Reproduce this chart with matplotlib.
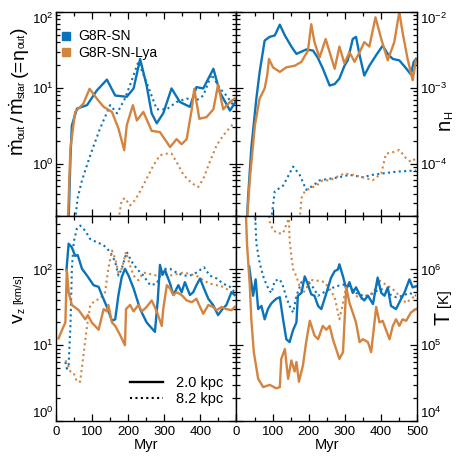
import matplotlib
matplotlib.use("Agg")
import matplotlib.pyplot as plt
from matplotlib.lines import Line2D
from matplotlib.transforms import IdentityTransform
from matplotlib.ticker import LogLocator, MultipleLocator, NullFormatter, FixedFormatter

matplotlib.rcParams['font.family'] = ['Liberation Sans', 'DejaVu Sans']
matplotlib.rcParams['mathtext.fontset'] = 'custom'
matplotlib.rcParams['mathtext.rm'] = 'Liberation Sans'
matplotlib.rcParams['mathtext.it'] = 'Liberation Sans:italic'
matplotlib.rcParams['mathtext.bf'] = 'Liberation Sans:bold'
matplotlib.rcParams['xtick.labelsize'] = 9.5
matplotlib.rcParams['ytick.labelsize'] = 9.5

BLUE = '#0b73b9'
ORANGE = '#d3843f'

# ---- mass loading eta (top left) ----
t_eta_sn = [35, 40, 44, 58, 86, 113, 141, 164, 196, 215, 233, 251, 265, 279, 297, 320,
            343, 371, 389, 408, 436, 454, 482, 497]
eta_sn_2 = [0.18, 1.2, 3.2, 5.3, 5.9, 9.2, 12.8, 7.9, 7.6, 9.8, 24, 10.7, 4.6, 3.4, 4.6, 9.8,
            6.5, 5.6, 10.2, 9.8, 17.8, 8.7, 5.0, 6.5]
t_eta_lya = [33, 40, 53, 76, 93, 113, 132, 155, 173, 189, 196, 213, 224, 242, 265, 288, 316,
             334, 348, 362, 376, 383, 397, 417, 436, 449, 463, 482, 495]
eta_lya_2 = [0.18, 1.6, 4.8, 6.2, 9.7, 7.2, 5.6, 4.8, 2.9, 1.5, 3.2, 5.9, 3.7, 4.8, 2.7, 2.6, 1.65,
             2.1, 1.8, 2.1, 5.2, 9.7, 3.9, 4.1, 5.2, 11, 5.2, 6.5, 7.2]
t_eta_sn_8 = [53, 60, 72, 95, 122, 150, 169, 191, 210, 228, 251, 279, 307, 334, 362, 389, 408,
              431, 454, 472, 491]
eta_sn_8 = [0.18, 0.35, 0.6, 1.29, 2.9, 5.9, 4.6, 7.2, 12.6, 22, 11.7, 5.2, 5.2, 6.5, 7.2, 6.8, 7.9,
            15, 9.8, 7.9, 5.9]
t_eta_lya_8 = [173, 182, 191, 205, 219, 233, 251, 270, 288, 307, 320, 334, 353, 376, 394, 408,
               426, 445, 463, 482, 495]
eta_lya_8 = [0.18, 0.33, 0.35, 0.28, 0.33, 0.43, 0.63, 0.95, 1.29, 1.35, 1.35, 1.05, 0.71, 0.55,
             0.49, 0.63, 1.05, 1.74, 2.34, 3.0, 3.5]

# ---- density nH (top right) ----
t_nh_sn = [28, 32, 41, 55, 64, 78, 92, 106, 120, 134, 152, 166, 180, 193, 212, 225, 239, 258,
           272, 285, 299, 308, 322, 331, 341, 354, 368, 387, 405, 419, 433, 451, 470, 483, 491, 497]
nh_sn_2 = [1.5e-5, 3.5e-5, 1.6e-4, 7.2e-4, 1.6e-3, 4.2e-3, 4.7e-3, 4.9e-3, 6.8e-3, 4.9e-3, 3.5e-3,
           2.8e-3, 3.0e-3, 3.2e-3, 3.1e-3, 2.5e-3, 1.8e-3, 1.07e-3, 1.12e-3, 1.32e-3, 1.95e-3,
           2.3e-3, 4.4e-3, 4.7e-3, 2.7e-3, 1.45e-3, 1.95e-3, 2.7e-3, 3.6e-3, 2.8e-3, 2.4e-3,
           2.3e-3, 1.8e-3, 1.5e-3, 2.2e-3, 2.4e-3]
t_nh_lya = [28, 37, 51, 64, 78, 85, 90, 101, 120, 138, 161, 180, 198, 207, 216, 230, 247, 258,
            272, 285, 299, 313, 327, 341, 354, 368, 385, 401, 419, 437, 451, 460, 474, 488, 497]
nh_lya_2 = [1.5e-5, 6.3e-5, 3.2e-4, 7.2e-4, 9.8e-4, 1.45e-3, 2.4e-3, 1.86e-3, 1.62e-3, 1.86e-3,
            1.95e-3, 2.2e-3, 3.1e-3, 6.9e-3, 4.0e-3, 2.5e-3, 4.4e-3, 2.95e-3, 1.78e-3, 3.5e-3,
            2.1e-3, 2.95e-3, 2.2e-3, 2.95e-3, 4.0e-3, 3.5e-3, 8.5e-3, 4.4e-3, 2.3e-3, 4.0e-3,
            1.0e-2, 5.4e-3, 2.4e-3, 1.26e-3, 2.3e-3]
t_nh_sn_8 = [95, 99, 106, 129, 157, 175, 193, 212, 230, 258, 285, 313, 350, 377, 405, 442, 497]
nh_sn_8 = [1.8e-5, 2.3e-5, 4.3e-5, 5.1e-5, 9.1e-5, 7.1e-5, 4.5e-5, 5.1e-5, 6.0e-5, 6.3e-5, 6.6e-5,
           7.1e-5, 6.6e-5, 7.1e-5, 7.4e-5, 7.8e-5, 8.1e-5]
t_nh_lya_8 = [175, 180, 189, 203, 221, 239, 258, 276, 299, 322, 350, 377, 401, 414, 433, 451,
              470, 483, 497]
nh_lya_8 = [1.8e-5, 3.5e-5, 4.3e-5, 4.7e-5, 5.1e-5, 6.0e-5, 6.0e-5, 6.6e-5, 7.4e-5, 7.1e-5, 6.6e-5,
            6.0e-5, 7.4e-5, 1.35e-4, 1.41e-4, 1.51e-4, 1.17e-4, 1.05e-4, 1.17e-4]

# ---- outflow velocity vz (bottom left) ----
t_vz_sn = [29, 35, 44, 53, 60, 72, 86, 104, 118, 127, 141, 155, 164, 173, 182, 191, 201, 215,
           233, 251, 274, 282, 288, 295, 302, 316, 325, 339, 348, 357, 371, 380, 389, 399, 410,
           422, 435, 449, 461, 472, 486, 495]
vz_sn_2 = [98, 219, 195, 151, 155, 102, 83, 62, 59, 46, 32, 21, 22, 46, 79, 102, 83, 56,
           30, 20, 15, 40, 115, 85, 98, 65, 46, 62, 50, 68, 46, 50, 62, 76, 56,
           41, 34, 25, 30, 34, 50, 46]
t_vz_lya = [7, 17, 26, 30, 35, 44, 63, 81, 88, 99, 118, 132, 141, 145, 155, 164, 178, 191, 194,
            205, 215, 228, 238, 251, 265, 279, 293, 297, 307, 316, 325, 334, 348, 362, 376, 389,
            399, 408, 422, 435, 445, 459, 472, 486, 495]
vz_lya_2 = [12.3, 16, 20, 98, 50, 34, 29, 22, 25, 20, 16, 30, 28, 34, 20, 18, 13.5, 10, 30,
            34, 28, 34, 28, 32, 39, 28, 18, 30, 62, 56, 46, 50, 46, 39, 37, 41,
            32, 26, 34, 32, 29, 32, 30, 29, 32]
t_vz_sn_8 = [26, 30, 35, 40, 44, 49, 58, 67, 81, 95, 113, 132, 150, 164, 173, 182, 196, 210,
             224, 242, 261, 279, 297, 316, 334, 353, 371, 389, 410, 426, 445, 463, 482, 495]
vz_sn_8 = [6.0, 4.9, 5.5, 18, 102, 229, 347, 380, 324, 251, 229, 209, 170, 126, 83, 102, 170, 126,
           102, 83, 62, 65, 102, 102, 91, 83, 83, 91, 107, 83, 76, 65, 59, 50]
t_vz_lya_8 = [26, 30, 40, 49, 58, 67, 76, 86, 95, 109, 122, 136, 145, 155, 164, 173, 182, 194,
              205, 215, 228, 242, 261, 279, 297, 316, 334, 353, 371, 389, 408, 426, 445, 463,
              482, 495]
vz_lya_8 = [6.3, 5.8, 4.5, 4.3, 3.3, 3.3, 7.4, 18, 34, 39, 41, 50, 102, 178, 138, 91, 102, 170,
            112, 83, 72, 91, 87, 83, 87, 83, 87, 91, 87, 83, 72, 65, 62, 59,
            52, 46]

# ---- temperature T (bottom right) ----
t_T_sn = [35, 46, 53, 60, 69, 78, 87, 97, 110, 120, 129, 138, 147, 157, 166, 170, 180, 189, 198,
          207, 216, 226, 235, 249, 262, 272, 281, 285, 295, 304, 313, 322, 331, 345, 354, 364,
          378, 391, 401, 410, 419, 428, 442, 456, 465, 479, 488, 497]
T_sn_2 = [1.1e6, 4.5e5, 7.4e5, 3.0e5, 3.3e5, 2.2e5, 3.0e5, 3.6e5, 4.1e5, 4.3e5, 2.2e5, 1.2e5,
          1.1e5, 1.6e5, 2.0e5, 4.5e5, 4.9e5, 8.1e5, 6.3e5, 4.7e5, 4.5e5, 3.3e5, 3.0e5, 4.9e5,
          7.8e5, 9.5e5, 1.0e6, 1.17e6, 8.1e5, 5.5e5, 6.8e5, 4.9e5, 5.8e5, 4.3e5, 3.9e5, 4.5e5,
          3.5e5, 7.8e5, 4.9e5, 4.5e5, 5.8e5, 3.3e5, 3.0e5, 4.1e5, 4.9e5, 7.4e5, 5.8e5, 6.0e5]
t_T_lya = [25, 29, 37, 41, 48, 60, 74, 92, 110, 120, 124, 134, 143, 152, 161, 166, 173, 184, 193,
           203, 216, 226, 239, 249, 258, 267, 276, 285, 295, 304, 313, 322, 331, 341, 350, 364,
           373, 387, 396, 405, 414, 424, 433, 442, 451, 460, 470, 483, 497]
T_lya_2 = [8e6, 2.2e6, 6.0e5, 2.2e5, 8.1e4, 3.6e4, 2.8e4, 3.0e4, 2.7e4, 2.8e4, 6.6e4, 8.9e4,
           3.6e4, 6.3e4, 4.5e4, 6.0e4, 3.3e4, 5.4e4, 1.1e5, 2.1e5, 1.35e5, 1.2e5, 1.8e5, 1.6e5,
           1.8e5, 1.2e5, 8.9e4, 6.6e4, 8.1e4, 5.8e5, 3.6e5, 2.7e5, 2.0e5, 1.1e5, 1.2e5, 1.1e5,
           8.1e4, 3.2e5, 2.0e5, 2.1e5, 1.6e5, 1.2e5, 1.8e5, 2.2e5, 1.8e5, 2.2e5, 2.1e5, 2.7e5, 3.0e5]
t_T_sn_8 = [50, 55, 64, 74, 83, 92, 97, 106, 120, 129, 138, 147, 157, 166, 180, 193, 212, 226,
            239, 258, 276, 295, 313, 331, 350, 368, 387, 405, 424, 442, 460, 479, 497]
T_sn_8 = [8e6, 2.2e6, 1.23e6, 8.1e5, 6.3e5, 5.2e5, 4.9e5, 7.1e5, 7.4e5, 6.0e5, 4.3e5, 3.3e5,
          2.7e5, 4.5e5, 6.8e5, 7.4e5, 5.8e5, 4.5e5, 4.9e5, 5.5e5, 6.0e5, 6.3e5, 6.0e5, 4.9e5,
          4.5e5, 4.5e5, 5.2e5, 5.5e5, 4.7e5, 4.3e5, 4.5e5, 4.9e5, 4.5e5]
t_T_lya_8 = [88, 92, 101, 115, 129, 138, 145, 147, 152, 157, 166, 175, 184, 193, 203, 216, 230,
             244, 258, 272, 285, 295, 304, 318, 331, 345, 359, 378, 396, 414, 433, 451, 470,
             483, 497]
T_lya_8 = [6e6, 4.3e6, 3.3e6, 3.0e6, 3.0e6, 3.9e6, 4.7e6, 2.5e6, 1.48e6, 1.0e6, 8.1e5, 6.0e5,
           4.9e5, 5.5e5, 7.4e5, 7.1e5, 7.1e5, 6.8e5, 5.5e5, 4.3e5, 2.2e5, 3.6e5, 6.0e5, 5.8e5,
           4.5e5, 4.1e5, 4.5e5, 4.9e5, 7.1e5, 6.3e5, 5.5e5, 4.5e5, 3.6e5, 4.1e5, 4.5e5]

x_ticks = [0, 100, 200, 300, 400, 500]
x_labels_left = ['0', '100', '200', '300', '400', '']
x_labels_right = ['0', '100', '200', '300', '400', '500']

SOLID = dict(lw=1.7, ls='-')
DOT = dict(lw=1.5, ls=(0, (1, 1.6)))
H = 463  # figure height in pixels


def setup(ax, ylim, yticks, right=False, xlabels=None):
    ax.set_xlim(0, 500)
    ax.set_yscale('log')
    ax.set_ylim(*ylim)
    ax.set_yticks(yticks)
    ax.set_xticks(x_ticks)
    ax.xaxis.set_minor_locator(MultipleLocator(50))
    ax.yaxis.set_minor_locator(LogLocator(base=10, subs=range(2, 10), numticks=20))
    ax.yaxis.set_minor_formatter(NullFormatter())
    ax.tick_params(which='both', direction='in', top=True, right=True, left=True,
                   bottom=True, width=0.9)
    ax.tick_params(which='major', length=5)
    ax.tick_params(which='minor', length=3)
    ax.tick_params(axis='y', pad=2)
    if right:
        ax.tick_params(labelleft=False, labelright=True)
    if xlabels is None:
        ax.tick_params(labelbottom=False)
    else:
        ax.xaxis.set_major_formatter(FixedFormatter(xlabels))
    # labels at the ends of the axis sit inside the axis range
    ticks = ax.yaxis.get_major_ticks()
    for tk, v in zip(ticks, yticks):
        if v == ylim[0]:
            tk.label1.set_va('bottom')
            tk.label2.set_va('bottom')
        elif v == ylim[1]:
            tk.label1.set_va('top')
            tk.label2.set_va('top')
    for s in ax.spines.values():
        s.set_linewidth(1.0)


def rot_label(fig, x, y, pieces):
    # vertical label built from pieces, x = baseline, y = bottom start (image pixels)
    renderer = fig.canvas.get_renderer()
    yd = H - y
    for s, size, dx, gap in pieces:
        t = fig.text(x + dx, yd, s, fontsize=size, rotation=90, rotation_mode='anchor',
                     ha='left', va='baseline', transform=IdentityTransform())
        yd += t.get_window_extent(renderer).height + gap


fig = plt.figure(figsize=(4.63, 4.63), dpi=100)
x0, x1, xr = 56 / 463, 236.5 / 463, 417 / 463
yb, ym, yt = 1 - 421 / 463, 1 - 216.5 / 463, 1 - 12 / 463
ax1 = fig.add_axes([x0, ym, x1 - x0, yt - ym])
ax2 = fig.add_axes([x1, ym, xr - x1, yt - ym])
ax3 = fig.add_axes([x0, yb, x1 - x0, ym - yb])
ax4 = fig.add_axes([x1, yb, xr - x1, ym - yb])

# top left
ax1.plot(t_eta_sn_8, eta_sn_8, color=BLUE, **DOT)
ax1.plot(t_eta_lya_8, eta_lya_8, color=ORANGE, **DOT)
ax1.plot(t_eta_sn, eta_sn_2, color=BLUE, **SOLID)
ax1.plot(t_eta_lya, eta_lya_2, color=ORANGE, **SOLID)
setup(ax1, (0.2, 100), [1, 10, 100])
h = [Line2D([], [], ls='none', marker='s', ms=6, color=BLUE),
     Line2D([], [], ls='none', marker='s', ms=6, color=ORANGE)]
ax1.legend(h, ['G8R-SN', 'G8R-SN-Lya'], loc='upper left', frameon=False, fontsize=10,
           handlelength=0.8, handletextpad=0.5, labelspacing=0.2, borderaxespad=0,
           borderpad=0, bbox_to_anchor=(0.025, 0.915))

# top right
ax2.plot(t_nh_sn_8, nh_sn_8, color=BLUE, **DOT)
ax2.plot(t_nh_lya_8, nh_lya_8, color=ORANGE, **DOT)
ax2.plot(t_nh_sn, nh_sn_2, color=BLUE, **SOLID)
ax2.plot(t_nh_lya, nh_lya_2, color=ORANGE, **SOLID)
setup(ax2, (2e-5, 1e-2), [1e-4, 1e-3, 1e-2], right=True)

# bottom left
ax3.plot(t_vz_sn_8, vz_sn_8, color=BLUE, **DOT)
ax3.plot(t_vz_lya_8, vz_lya_8, color=ORANGE, **DOT)
ax3.plot(t_vz_sn, vz_sn_2, color=BLUE, **SOLID)
ax3.plot(t_vz_lya, vz_lya_2, color=ORANGE, **SOLID)
setup(ax3, (1, 500), [1, 10, 100], xlabels=x_labels_left)
ax3.set_xlabel('Myr', fontsize=10.5, labelpad=0)
h2 = [Line2D([], [], color='k', **SOLID), Line2D([], [], color='k', **DOT)]
ax3.legend(h2, ['2.0 kpc', '8.2 kpc'], loc='lower right', frameon=False, fontsize=10.5,
           handlelength=2.3, handletextpad=0.9, labelspacing=0.15, borderaxespad=0,
           borderpad=0, bbox_to_anchor=(0.93, 0.072))

# bottom right
ax4.plot(t_T_sn_8, T_sn_8, color=BLUE, **DOT)
ax4.plot(t_T_lya_8, T_lya_8, color=ORANGE, **DOT)
ax4.plot(t_T_sn, T_sn_2, color=BLUE, **SOLID)
ax4.plot(t_T_lya, T_lya_2, color=ORANGE, **SOLID)
setup(ax4, (1e4, 5e6), [1e4, 1e5, 1e6], right=True, xlabels=x_labels_right)
ax4.set_xlabel('Myr', fontsize=10.5, labelpad=0)

# axis titles with small subscripts
rot_label(fig, 23.5, 156, [(r'$\dot{\rm m}$', 14.5, 0, 0), ('out', 7.5, 1.5, 2),
                           ('/', 14, 0, 2), (r'$\dot{\rm m}$', 14.5, 0, 0),
                           ('star', 7.5, 1.5, 3), ('(=', 14, 0, 0), ('\u03b7', 14, 0, 0),
                           ('out', 7.5, 1.5, 0), (')', 14, 0, 0)])
rot_label(fig, 23, 323, [('v', 14, 0, 0), ('z', 7.5, 1.5, 4), ('[km/s]', 8, -2, 0)])
rot_label(fig, 450, 130, [('n', 14.5, 0, 0), ('H', 8, 2, 0)])
rot_label(fig, 450, 325, [('T', 15.5, 0, 5), ('[K]', 10.5, -2, 0)])

fig.savefig('out.png', dpi=100)
